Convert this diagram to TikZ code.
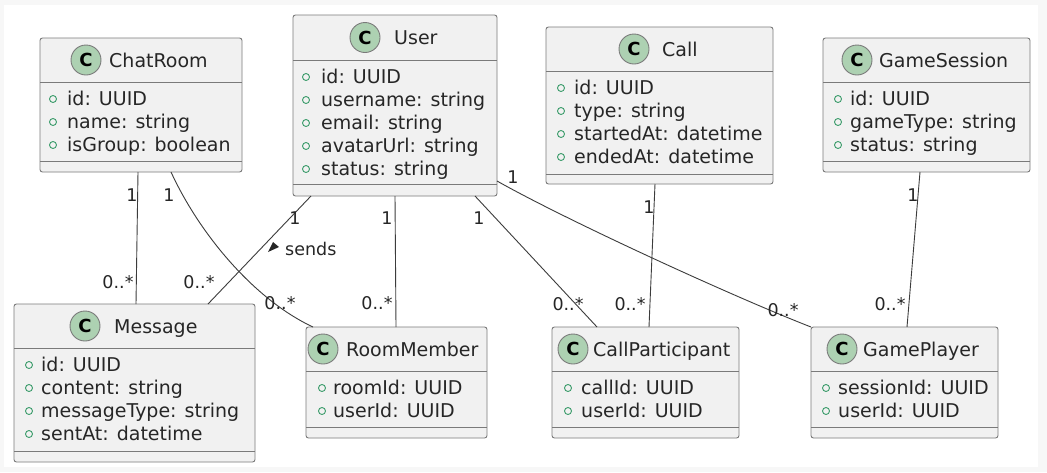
\documentclass[tikz,border=0pt]{standalone}
\usepackage{fontspec}
\setmainfont{DejaVu Sans}
\definecolor{clsfill}{HTML}{F1F1F1}
\definecolor{clsborder}{HTML}{7A7A7A}
\definecolor{circfill}{HTML}{ADD1B2}
\definecolor{visgreen}{HTML}{3A9B6A}
\definecolor{linecol}{HTML}{3C3C3C}
\definecolor{bgout}{HTML}{F7F7F7}
\newcounter{attrc}
\tikzset{
 cls/.style={draw=clsborder, fill=clsfill, line width=0.9pt, rounded corners=2.5pt, inner sep=0pt, outer sep=0pt},
 sepline/.style={draw=clsborder, line width=0.9pt},
 badge/.style={circle, draw=clsborder, fill=circfill, line width=0.9pt, minimum size=30pt, inner sep=0pt, font=\fontsize{18}{18}\selectfont\bfseries},
 titletext/.style={anchor=base west, inner sep=0pt, font=\fontsize{19}{22}\selectfont, text=black!85},
 attrtext/.style={anchor=base west, inner sep=0pt, font=\fontsize{19}{22}\selectfont, text=black!85},
 vis/.style={circle, draw=visgreen, line width=0.9pt, minimum size=7pt, inner sep=0pt},
 conn/.style={draw=linecol, line width=0.9pt},
 mult/.style={inner sep=0pt, font=\fontsize{17.5}{18}\selectfont, text=black!85},
}
\newcommand\umlclass[7]{%
 \pgfmathsetmacro\cw{#4-#2}\pgfmathsetmacro\ch{#5-#3}%
 \pgfmathsetmacro\ccx{(#2+#4)/2}\pgfmathsetmacro\ccy{(#3+#5)/2}%
 \node[cls, minimum width=\cw pt, minimum height=\ch pt] (#1) at (\ccx,\ccy) {};
 \draw[sepline] (#2,#6) -- (#4,#6);
 \draw[sepline] (#2,#7) -- (#4,#7);
}
\newcommand\umlattr[4]{%
 \stepcounter{attrc}%
 \pgfmathsetmacro\vy{#3-6}%
 \node[vis] (vis\theattrc) at (#1,\vy) {};
 \node[attrtext] (attr\theattrc) at (#2,#3) {#4};
}
\begin{document}
\begin{tikzpicture}[x=1pt,y=-1pt]
\useasboundingbox (0,0) rectangle (1047,472);
\fill[bgout] (0,0) rectangle (1047,472);
\fill[white] (4,5) rectangle (1038,467);

% ChatRoom
\umlclass{chatroom}{40}{38}{242}{172}{82}{161}
\node[badge] (chatroomC) at (86,60) {C};
\node[titletext] (chatroomT) at (109,67) {ChatRoom};
\umlattr{53}{67}{105}{id: UUID}
\umlattr{53}{67}{128}{name: string}
\umlattr{53}{67}{151}{isGroup: boolean}

% User
\umlclass{user}{293}{15}{497}{196}{60}{184}
\node[badge] (userC) at (365,37.5) {C};
\node[titletext] (userT) at (394,44.5) {User};
\umlattr{306}{321}{83}{id: UUID}
\umlattr{306}{321}{106}{username: string}
\umlattr{306}{321}{129}{email: string}
\umlattr{306}{321}{152}{avatarUrl: string}
\umlattr{306}{321}{175}{status: string}

% Call
\umlclass{call}{546}{27}{773}{184}{71}{174}
\node[badge] (callC) at (634,49) {C};
\node[titletext] (callT) at (662,56) {Call};
\umlattr{561}{574}{94}{id: UUID}
\umlattr{561}{574}{117}{type: string}
\umlattr{561}{574}{140}{startedAt: datetime}
\umlattr{561}{574}{163}{endedAt: datetime}

% GameSession
\umlclass{gamesession}{823}{38}{1030}{172}{82}{161}
\node[badge] (gamesessionC) at (857,60) {C};
\node[titletext] (gamesessionT) at (879,67) {GameSession};
\umlattr{838}{850}{105}{id: UUID}
\umlattr{838}{850}{128}{gameType: string}
\umlattr{838}{850}{151}{status: string}

% Message
\umlclass{message}{14}{304}{255}{462}{348}{451}
\node[badge] (messageC) at (85,326) {C};
\node[titletext] (messageT) at (114,333) {Message};
\umlattr{29}{41}{371}{id: UUID}
\umlattr{29}{41}{394}{content: string}
\umlattr{29}{41}{417}{messageType: string}
\umlattr{29}{41}{440}{sentAt: datetime}

% RoomMember
\umlclass{roommember}{306}{327}{487}{438}{371}{427}
\node[badge] (roommemberC) at (323,349) {C};
\node[titletext] (roommemberT) at (346,356) {RoomMember};
\umlattr{322}{333}{394}{roomId: UUID}
\umlattr{322}{333}{417}{userId: UUID}

% CallParticipant
\umlclass{callparticipant}{552}{327}{739}{438}{371}{427}
\node[badge] (callparticipantC) at (573,349) {C};
\node[titletext] (callparticipantT) at (593,356) {CallParticipant};
\umlattr{568}{581}{394}{callId: UUID}
\umlattr{568}{581}{417}{userId: UUID}

% GamePlayer
\umlclass{gameplayer}{811}{327}{998}{438}{371}{427}
\node[badge] (gameplayerC) at (842,349) {C};
\node[titletext] (gameplayerT) at (863,356) {GamePlayer};
\umlattr{826}{838}{394}{sessionId: UUID}
\umlattr{826}{838}{417}{userId: UUID}

% connectors
\draw[conn] ([xshift=98pt]chatroom.south west) -- ([xshift=122pt]message.north west);
\draw[conn] ([xshift=131pt]chatroom.south west) .. controls (200,235) and (255,300) .. ([xshift=7pt]roommember.north west);
\draw[conn] ([xshift=18pt]user.south west) -- ([xshift=194pt]message.north west);
\draw[conn] ([xshift=102pt]user.south west) -- ([xshift=90pt]roommember.north west);
\draw[conn] ([xshift=182pt]user.south west) -- ([xshift=45pt]callparticipant.north west);
\draw[conn] ([yshift=15pt]user.south east) .. controls (568,221) and (734,297) .. (gameplayer.north west);
\draw[conn] ([xshift=109pt]call.south west) -- ([xshift=97pt]callparticipant.north west);
\draw[conn] ([xshift=97pt]gamesession.south west) -- ([xshift=96pt]gameplayer.north west);

% multiplicities
\node[mult] (m1) at (132,195) {1};
\node[mult] (m2) at (169,195) {1};
\node[mult] (m3) at (295,218) {1};
\node[mult] (m4) at (387,218) {1};
\node[mult] (m5) at (479,218) {1};
\node[mult] (m6) at (513,177) {1};
\node[mult] (m7) at (649,207) {1};
\node[mult] (m8) at (913,195) {1};
\node[mult] (n1) at (118,282) {0..*};
\node[mult] (n2) at (199,282) {0..*};
\node[mult] (n3) at (280,303) {0..*};
\node[mult] (n4) at (377,303) {0..*};
\node[mult] (n5) at (568,304) {0..*};
\node[mult] (n6) at (630,304) {0..*};
\node[mult] (n7) at (783,310) {0..*};
\node[mult] (n8) at (890,304) {0..*};

% sends label
\fill[black!85] (268,252) -- (273,242) -- (279,247) -- cycle;
\node[mult, anchor=base west] (sendsT) at (285,255) {sends};
\end{tikzpicture}
\end{document}
